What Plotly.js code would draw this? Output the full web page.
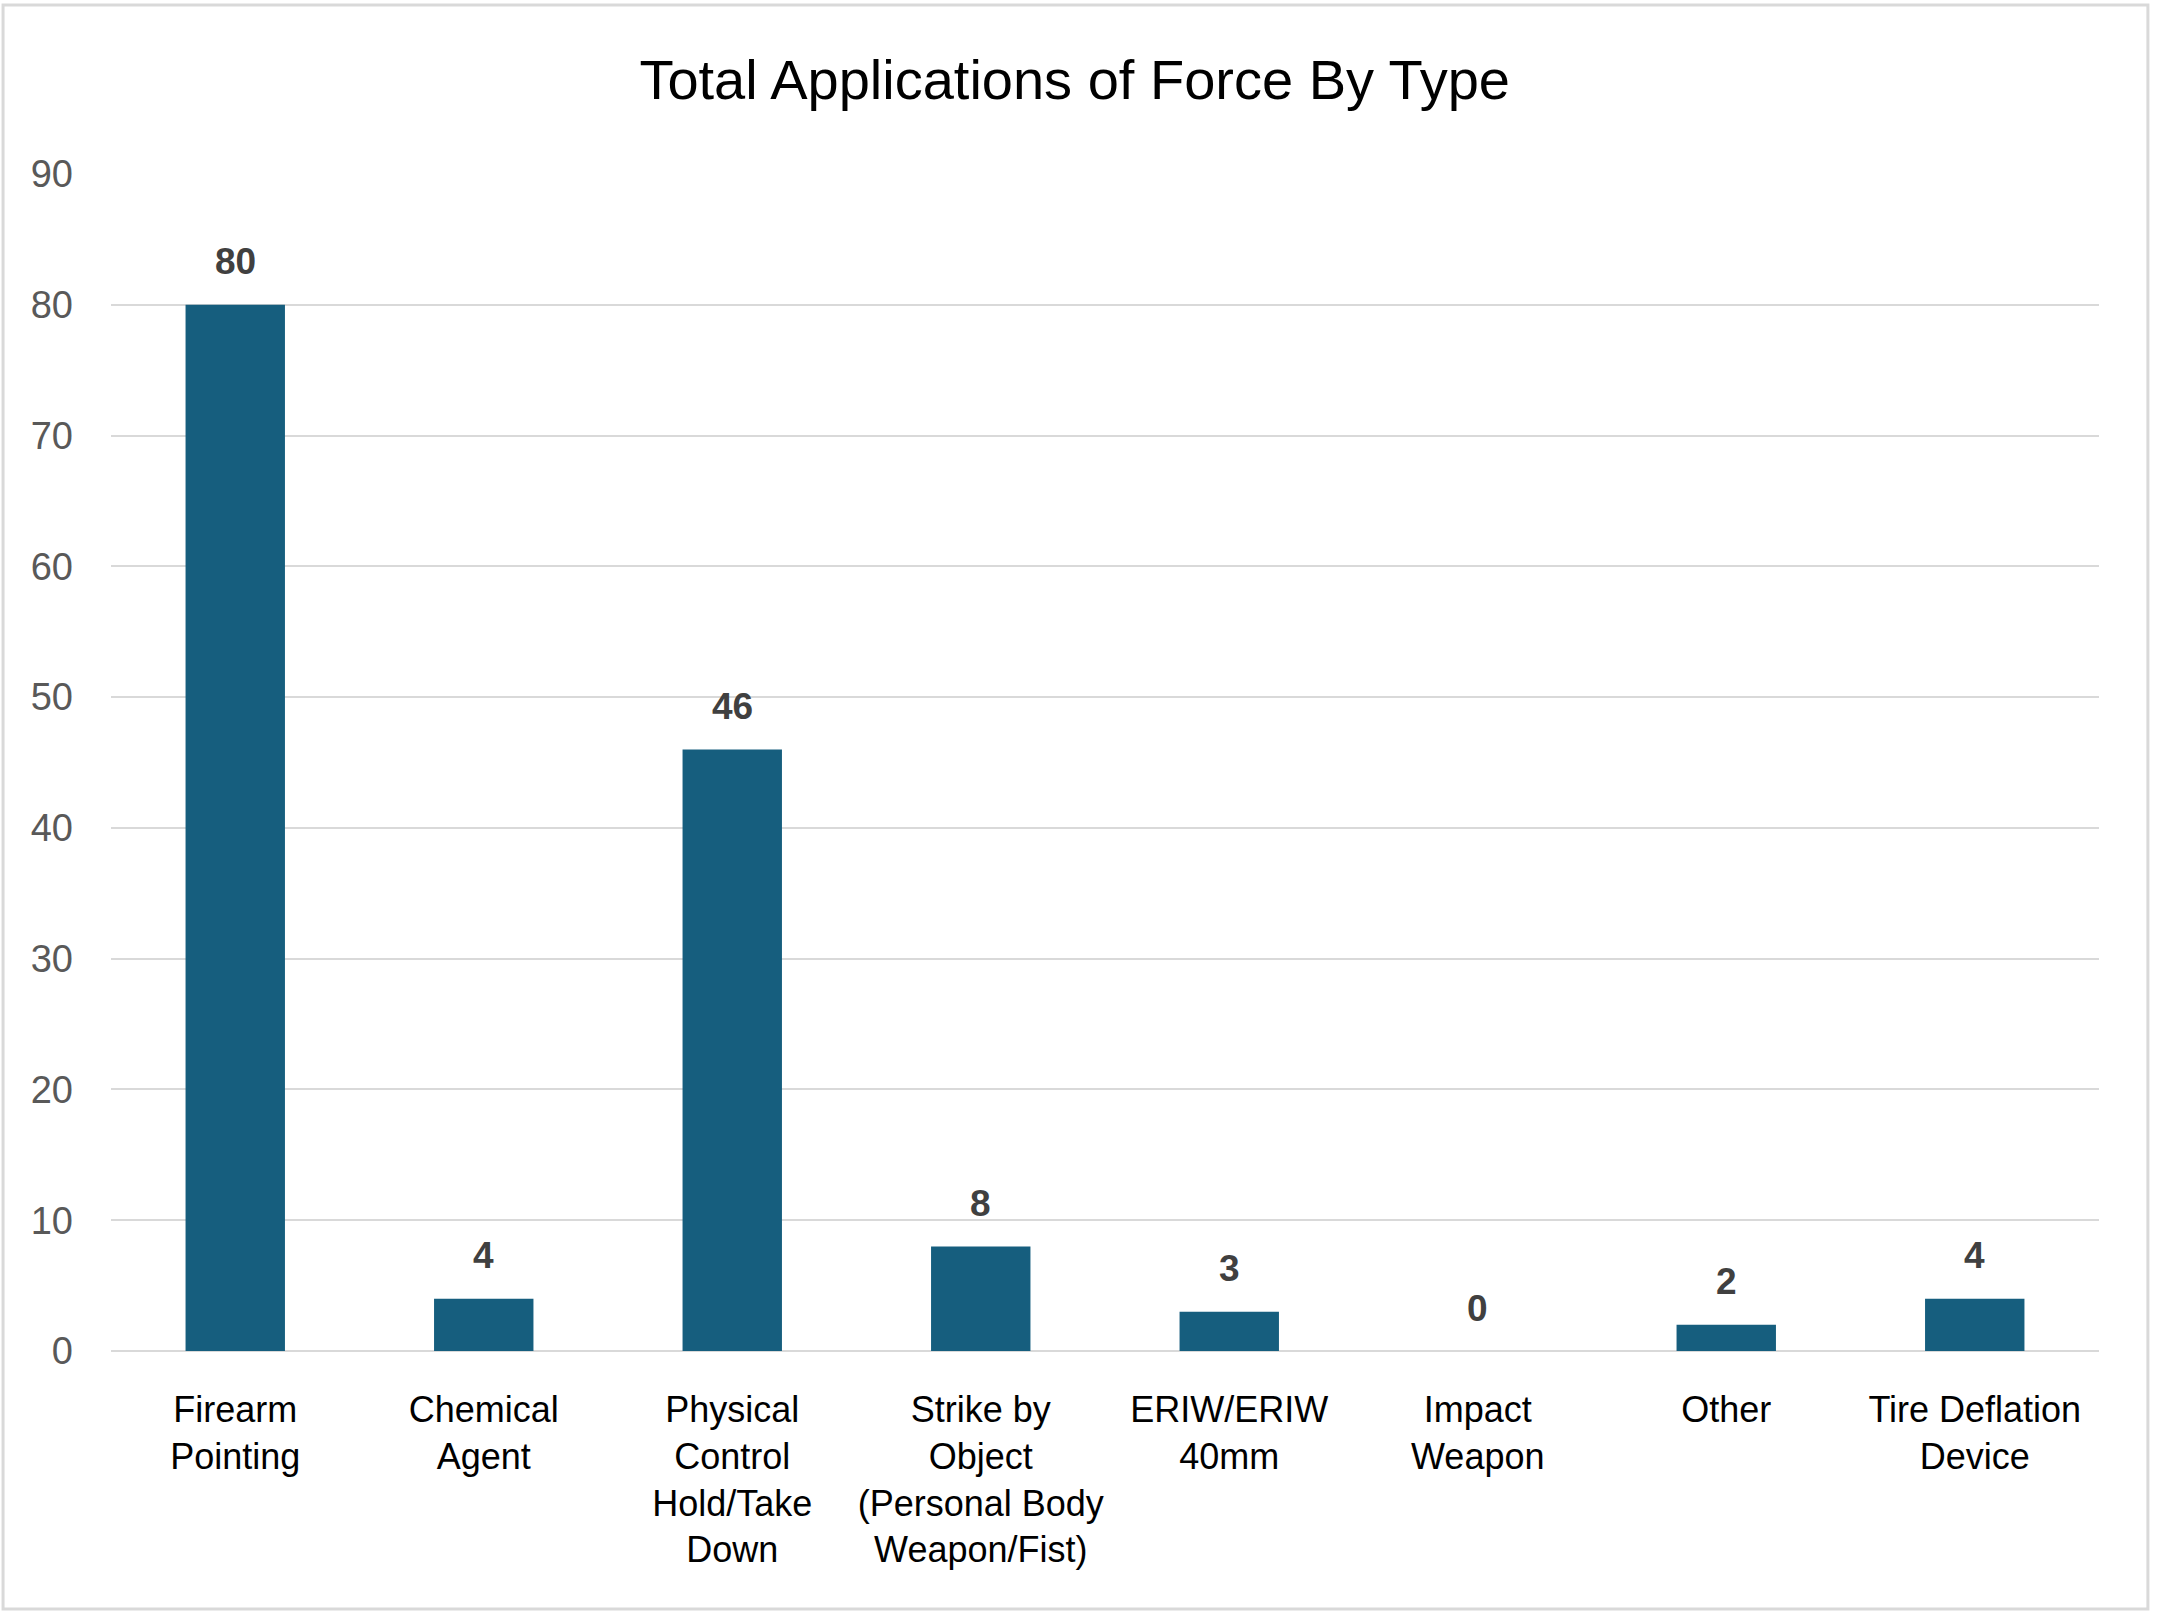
<!DOCTYPE html>
<html>
<head>
<meta charset="utf-8">
<script src="https://cdn.plot.ly/plotly-3.0.1.min.js"></script>
<style>
  body { margin: 0; background: #fff; }
  #chart { width: 2158px; height: 1617px; }
</style>
</head>
<body>
<div id="chart"></div>
<script>
// values
const forceTypes = [
  'Firearm<br>Pointing',
  'Chemical<br>Agent',
  'Physical<br>Control<br>Hold/Take<br>Down',
  'Strike by<br>Object<br>(Personal Body<br>Weapon/Fist)',
  'ERIW/ERIW<br>40mm',
  'Impact<br>Weapon',
  'Other',
  'Tire Deflation<br>Device'
];
const totals = [80, 4, 46, 8, 3, 0, 2, 4];
const yTicks = [0, 10, 20, 30, 40, 50, 60, 70, 80, 90];

const FONT = 'Liberation Sans, Arial, sans-serif';
const GRID = '#d9d9d9';

const trace = {
  type: 'bar',
  x: forceTypes,
  y: totals,
  marker: { color: '#165e7e' },
  hoverinfo: 'x+y'
};

// data labels sit a bit higher than plotly's 'outside' text would
const labels = forceTypes.map((cat, i) => ({
  x: cat,
  y: totals[i],
  text: String(totals[i]),
  showarrow: false,
  yanchor: 'middle',
  yshift: 43,
  font: { family: FONT, size: 37, color: '#404040', weight: 'bold' }
}));

const layout = {
  width: 2158,
  height: 1617,
  margin: { l: 111, r: 59, t: 174, b: 266 },
  paper_bgcolor: '#fff',
  plot_bgcolor: '#fff',
  showlegend: false,
  bargap: 0.6,
  title: {
    text: 'Total Applications of Force By Type',
    font: { family: FONT, size: 56, color: '#000' },
    xref: 'container',
    x: 0.498,
    xanchor: 'center',
    yref: 'container',
    y: 0.951,
    yanchor: 'middle'
  },
  xaxis: {
    type: 'category',
    ticks: '',
    showgrid: false,
    showline: false,
    ticklabelstandoff: 34,
    tickfont: { family: FONT, size: 36, color: '#000' }
  },
  yaxis: {
    range: [0, 90],
    tickvals: yTicks,
    ticks: '',
    showline: false,
    gridcolor: GRID,
    gridwidth: 2,
    zeroline: true,
    zerolinecolor: GRID,
    zerolinewidth: 2,
    ticklabelstandoff: 37,
    tickfont: { family: FONT, size: 38, color: '#595959' }
  },
  annotations: labels,
  shapes: [{
    // chart area border
    type: 'rect',
    xref: 'paper', yref: 'paper',
    x0: -0.0543, x1: 1.0246, y0: -0.2192, y1: 1.1436,
    line: { color: GRID, width: 3 },
    layer: 'below'
  }]
};

Plotly.newPlot('chart', [trace], layout, { displayModeBar: false, staticPlot: true });
</script>
</body>
</html>
